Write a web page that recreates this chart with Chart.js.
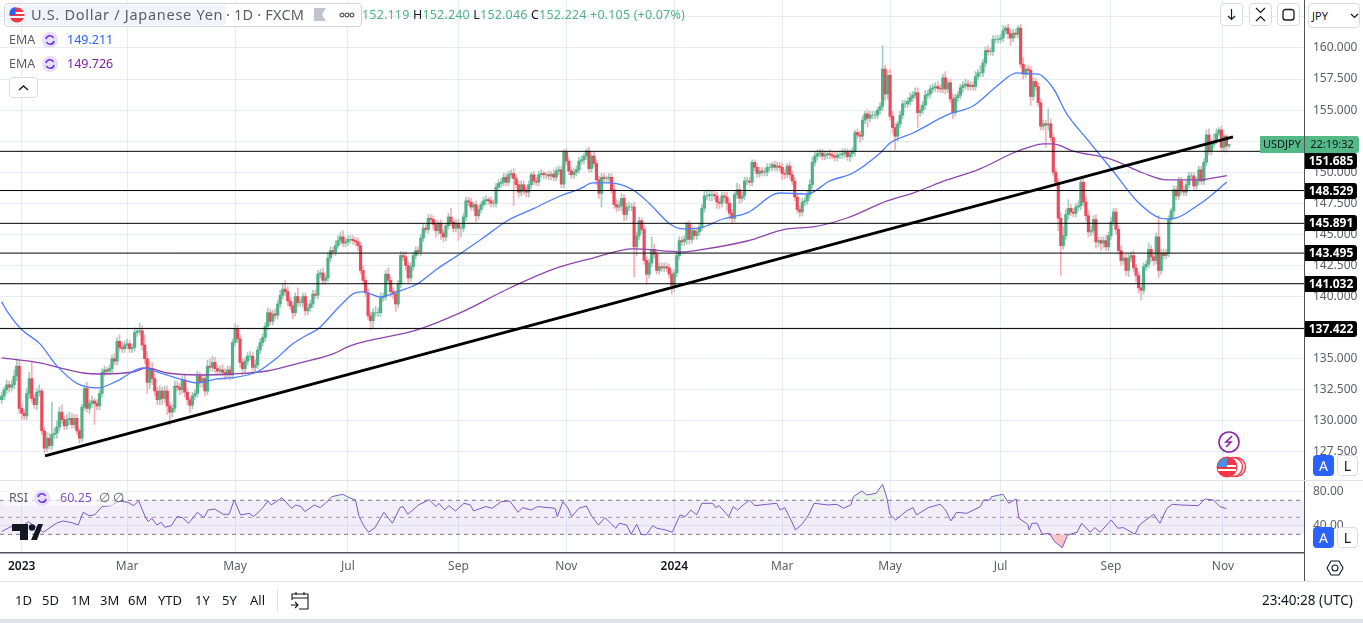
<!DOCTYPE html>
<html><head><meta charset="utf-8">
<script src="https://cdn.jsdelivr.net/npm/chart.js@4"></script>
<style>
html,body{margin:0;padding:0;background:#fff;overflow:hidden;width:1363px;height:623px;font-family:"Noto Sans",sans-serif;color:#131722}
#c{position:absolute;left:0;top:0}
.a{position:absolute;white-space:nowrap;line-height:1}
.btn{position:absolute;box-sizing:border-box;background:#fff;border:1px solid #d9dce4;border-radius:4px}
.ico{position:absolute;width:16px;height:16px;border-radius:50%;background:#e6dffa}
</style></head><body>
<canvas id="c" width="1363" height="582"></canvas>
<script>
const closes=[
132.0,132.5,132.9,132.7,132.9,133.6,134.4,131.0,130.6,130.4,
132.2,133.4,131.8,131.3,132.3,132.4,129.2,127.8,128.6,128.0,
128.9,129.0,129.5,130.7,130.1,129.6,130.1,130.2,129.7,130.2,
129.2,128.6,131.1,132.6,131.0,131.4,131.6,131.4,131.2,132.2,
133.9,134.1,134.0,134.2,135.0,134.8,136.4,135.9,135.8,136.1,
136.2,135.8,135.9,137.1,137.2,137.25,136.1,135.0,133.1,134.2,
133.4,132.4,131.7,132.4,131.8,132.4,131.2,130.7,131.0,132.8,
132.7,132.5,133.3,132.3,131.7,131.25,132.0,132.2,133.6,133.1,
133.4,132.4,134.4,134.3,134.7,134.2,134.0,134.1,133.9,133.7,
134.1,133.7,136.3,137.4,136.6,134.7,134.2,134.8,135.2,135.2,
134.3,134.5,135.7,136.3,136.7,137.6,138.7,138.0,138.6,138.5,
139.4,140.1,140.6,140.4,139.65,139.25,138.7,140.0,139.5,139.5,
140.0,138.85,139.1,139.4,140.2,140.1,141.8,141.9,141.3,141.5,
143.1,143.7,143.6,144.1,144.5,144.8,144.3,144.4,144.6,144.6,
144.5,144.4,144.1,142.1,141.3,140.3,138.45,138.05,138.7,138.7,
138.7,139.9,140.0,141.8,141.3,140.4,140.2,139.4,141.0,143.3,
143.2,142.5,141.5,142.4,143.3,143.7,143.6,144.7,145.5,145.4,
146.3,146.2,145.8,145.3,145.9,145.1,144.8,145.7,146.4,146.0,
145.5,145.9,145.5,145.5,146.4,147.7,147.6,147.2,147.4,146.5,
147.0,147.4,147.7,147.8,147.7,147.5,147.5,148.8,149.1,149.2,
149.6,149.2,149.8,149.9,149.5,149.0,148.4,149.0,148.5,148.4,
149.0,149.8,149.3,149.2,149.8,149.9,149.8,149.8,149.7,149.85,
149.6,150.1,150.2,149.05,151.6,150.9,150.1,149.8,150.0,150.2,
150.9,151.0,151.3,151.7,150.3,151.3,150.7,149.4,148.3,149.6,
149.5,149.5,149.6,148.6,147.4,147.2,147.3,147.9,146.6,147.2,
147.2,147.2,144.0,144.9,146.1,145.4,142.9,141.8,142.7,143.8,
143.4,142.1,142.4,142.3,142.4,142.3,141.8,140.9,141.9,143.3,
144.5,144.4,144.6,145.8,144.6,145.3,144.9,145.2,145.6,147.1,
148.1,148.1,148.2,148.2,148.1,147.6,147.5,148.1,148.0,147.5,
146.7,146.3,148.2,148.6,147.9,148.1,149.3,149.3,149.2,150.8,
150.4,149.9,150.1,150.0,150.0,150.4,150.4,150.6,150.4,150.5,
150.4,149.9,149.85,150.5,149.8,149.3,148.0,147.0,146.8,147.6,
147.7,148.2,149.0,150.8,151.3,151.5,151.55,151.3,151.4,151.5,
151.4,151.3,151.2,151.4,151.4,151.5,151.6,151.25,151.5,151.7,
153.2,153.0,152.9,154.2,154.7,154.35,154.6,154.6,154.6,155.0,
155.3,158.3,156.3,157.8,154.5,153.6,152.9,153.9,154.6,155.5,
155.5,155.7,156.0,156.2,156.4,154.8,155.0,155.4,156.2,156.3,
156.7,156.8,156.9,156.75,156.7,157.6,156.7,157.2,155.9,154.8,
156.0,156.2,156.8,157.0,157.1,156.9,157.0,156.9,157.7,158.0,
158.0,158.8,159.8,159.7,159.7,160.7,160.7,160.7,160.8,161.4,
161.6,161.15,160.8,161.2,161.1,161.6,158.7,157.9,158.3,158.2,
156.1,157.3,156.9,155.6,153.7,153.9,153.8,153.9,152.8,150.0,
149.2,146.3,144.1,144.9,146.6,147.1,146.8,146.7,147.2,147.3,
149.2,147.6,146.5,145.2,145.3,146.2,144.4,144.5,144.3,144.5,
144.0,144.9,146.0,146.8,145.4,143.7,142.9,143.1,142.1,143.1,
143.3,142.3,141.7,140.7,140.5,142.4,142.6,143.8,143.2,142.9,
144.8,142.1,143.5,143.3,143.5,146.2,146.9,148.6,148.1,149.3,
148.5,148.4,149.0,149.7,149.7,148.9,149.3,150.2,149.3,150.8,
153.0,151.7,152.25,152.5,153.1,153.4,152.0,152.9,152.119,152.224];
const wickUp=[
.3,.2,.4,.3,.4,.5,.6,.5,.4,.3,.4,.5,1.4,.3,.3,.5,.2,.3,.5,.4,
2.6,.4,.5,.4,.6,.3,.4,.5,.4,.3,.3,.2,.2,.3,.5,.3,.4,.2,.3,.3,
.3,.3,.2,.3,.3,.4,.3,.5,.4,.3,.4,.3,.3,.4,.2,.6,.4,.8,.6,.6,
.5,.4,.3,.4,.3,.4,.4,.3,.3,.4,.4,.3,.3,.4,.3,.2,.3,.3,.4,.3,
.3,.3,.5,.6,.5,.4,.3,.3,.4,.3,.3,.3,.3,.4,.3,.3,.3,.3,.3,.4,
.3,.4,.3,.3,.3,.3,.4,.3,.3,.4,.3,.4,.5,.7,.4,.3,.3,.3,.7,.3,
.3,.3,.3,.3,.3,.3,.3,.3,.4,.3,.4,.3,.3,.4,.4,.4,.5,.3,.3,.3,
.3,.3,.3,.3,.4,.3,.3,.3,.3,.5,.4,.4,.3,.3,.5,.3,.3,.3,.3,.3,
.3,.4,.3,.3,.2,.3,.3,.3,.3,.3,.3,.3,.3,.4,.2,.3,.3,.2,.3,.7,
.3,.3,.3,.3,.3,.3,.3,.3,.2,.3,.3,.2,.3,.3,.2,.3,.3,.3,.3,.3,
.3,.3,.3,.3,.4,.3,.3,.3,.3,.3,.3,.2,.3,.3,.3,.3,.2,.2,.3,.2,
.4,.3,.3,.3,.2,.3,.3,.3,.3,.3,.3,.3,.2,.2,.3,.2,.3,.3,.3,.3,
.3,.2,.3,.3,.4,.4,.4,.4,.3,.3,.4,.3,.4,.3,.3,.2,.3,.3,.3,1.0,
.4,.3,.3,.3,.3,.3,.3,.3,.3,.3,.3,.3,.3,.2,.3,.3,.3,.3,.3,.3,
.4,.5,.3,.3,.4,.3,.3,.3,.3,.4,.3,.3,.2,.5,.4,.3,.3,.3,.3,.2,
.2,.3,.3,.3,.3,.3,.3,.2,.3,.3,.3,.3,.3,.2,.3,.3,.3,.3,.3,.3,
.3,.3,.4,.4,.3,.3,.3,.3,.3,.2,.3,.3,.3,.3,.3,.4,.3,.3,.3,.3,
.2,.3,.3,.3,.2,.3,.3,.3,.3,.2,.3,1.9,.3,.4,.5,.4,.3,.2,.3,.3,
.3,.3,.4,.3,.4,.4,.3,.3,.4,.3,.3,.3,.3,.4,.3,.3,.5,.2,.3,.4,
.3,.3,.3,.3,.4,.3,.3,.3,.4,.3,.6,.3,.3,.4,.3,.3,.3,.3,.3,.4,
.2,.3,.3,.3,.3,.2,.3,.5,.3,.3,.3,.3,.3,.3,.3,.3,.3,1.2,.4,.3,
.3,.3,.4,.7,.4,.7,.3,.3,.3,.4,.3,.3,.4,.4,.4,.3,.4,.3,.3,.3,
.4,.3,.4,.3,.3,.3,.4,.3,.3,.3,.3,.4,.3,.3,.2,.3,.3,.5,.3,.3,
.3,1.7,.3,.3,.3,.3,.2,.3,.3,.3,.3,.3,.3,.3,.3,.3,.3,.3,.3,.3,
.4,.5,.4,.6,.4,.2,.3,.2,.1,.02];
const wickDown=[
.3,.3,.3,.4,.3,.3,.4,.4,.5,.3,.3,.4,.3,.3,.4,.3,.3,.4,.3,.3,
.3,.3,.4,.3,.3,.3,.3,.4,.3,.3,.3,.4,.3,.3,.3,.4,.3,1.7,.3,.3,
.3,.3,.3,.3,.3,.3,.3,.3,.3,.3,.3,.3,.3,.3,.3,.3,.4,.4,.9,.5,
.5,.4,.4,.4,.5,.3,.7,1.05,.4,.3,.3,.4,.3,.4,.4,.6,.3,.3,.3,.4,
.4,.4,.3,.3,.3,.3,.3,.3,.3,.4,.3,.4,.3,.3,.3,.4,.5,.3,.3,.3,
.3,.4,.3,.3,.3,.3,.3,.3,.3,.3,.3,.3,.3,.3,.4,.3,.5,.3,.3,.3,
.3,.4,.3,.3,.3,.3,.3,.3,.3,.3,.3,.3,.3,.3,.2,.3,.3,.3,.3,.3,
.3,.3,.4,.3,.3,.3,.3,.7,.6,.3,.3,.3,.3,.3,.3,.4,.4,.6,.3,.3,
.3,.4,.4,.3,.3,.3,.3,.3,.3,.3,.3,.3,.4,.5,.3,.5,.4,.3,.3,.3,
.3,.3,1.0,.7,.3,.3,.3,.3,.3,.5,.3,.3,.2,.3,.3,.3,.3,.3,.3,.3,
.3,.3,.3,.3,2.2,.3,.4,.3,.3,.4,.4,.3,.3,.3,.3,.2,.3,.3,.3,.3,
.3,.3,.3,.3,.3,.3,.3,.3,.3,.3,.3,.3,.3,.3,.3,.3,.3,.4,.4,1.1,
.3,.3,.3,.3,.3,.4,.3,.4,.5,.4,.3,.3,2.4,.7,.3,.3,.3,.8,.3,.3,
.3,.3,.3,.3,.3,.3,.3,.7,.5,.3,.3,.3,.3,.4,.4,.3,.3,.3,.3,.3,
.3,.3,.4,.5,.3,.5,.4,.3,.4,.6,.5,.4,.3,.3,.4,.3,.3,.3,.3,.3,
.3,.3,.3,.3,.3,.3,.3,.3,.3,.3,.3,.5,.4,.3,.3,.3,.3,.3,.4,.3,
.3,.3,.3,.3,.3,.3,.3,.3,.3,.3,.3,.2,.3,.3,.3,.3,.3,.3,.4,.3,
.4,.3,.5,.3,.3,.7,.3,.3,.3,.3,.3,.3,.5,.4,.3,.5,1.1,.4,.3,.3,
.3,.3,.3,.3,.3,1.2,.3,.3,.3,.3,.3,.3,.3,.3,.3,.3,.4,.3,.3,.5,
.3,.3,.3,.4,.3,.3,.3,.3,.3,.3,.3,.3,.3,.3,.3,.3,.3,.3,.3,.3,
.3,.4,.6,.3,.3,.3,.3,.4,.3,.3,.7,.3,.3,.3,.3,.3,1.8,.4,.3,.3,
.3,1.0,2.4,.3,.3,.4,.3,.3,.3,.3,.3,.3,.4,.4,.3,.3,.5,.4,.6,.4,
.3,.3,.3,.3,.4,.3,.4,.3,.4,.5,.3,.3,.5,.4,.8,.3,.3,.3,.4,.4,
.3,.6,.3,.3,.3,.3,.3,.6,.3,.3,.3,.3,.3,.3,.3,.3,.3,.3,.3,.3,
.3,.3,.3,.3,.2,.2,.3,.3,.5,.18];
const fastEmaBar=[0,2.1,7.7,15.3,22,30.4,38.4,46,56.3,63.1,72.3,77.8,85.8,91,101.7,109.7,114.9,121.7,126,134.8,140.8,144,150.8,158.7,165.5,173.5,182.6,191.8,201.3,211.7,222.5,230.4,235.6,242.4,251.5,258.3,266.3,271.5,278.2,287.4,297,310.1,320.9,330,339.2,350,354,363.1,376.7,387,396.6,404.5,409.7,412.5,418.9,424.4,432.4,442.8,452.3,461.5,465.5,477.4,488.2];
const fastEma=[139.57,138.84,137.39,136.19,134.42,132.97,132.65,133.21,134.26,133.85,133.29,133.05,133.37,133.45,133.93,135.06,136.03,136.91,137.39,139.24,140.29,140.37,139.97,140.45,141.01,142.22,143.43,144.71,146.08,147.05,148.09,148.66,149.14,149.14,148.58,147.45,145.84,145.44,145.52,146.24,146.73,148.33,148.25,149.3,149.94,151.55,152.36,153.16,154.61,155.33,156.94,157.99,157.91,157.91,156.78,154.69,152.68,150.1,147.69,146.32,146.24,147.45,149.211];
const slowEmaBar=[0,15.3,23.3,32.4,39.2,52.3,57.9,65.9,79,92.2,105.7,118.9,132,138.8,165.5,182.6,202.5,221.2,235.6,251.5,271.5,278.2,297,312.9,323.3,336.8,352.8,363.1,376.7,389.8,403,409.7,414.9,418.9,426.9,441.6,454.8,464.3,476.3,488.2];
const slowEma=[135.06,134.66,134.26,133.85,133.77,133.93,134.26,133.85,133.69,133.77,134.01,134.66,135.38,136.03,137.31,138.68,140.69,142.3,143.1,143.83,143.59,143.75,144.47,145.44,145.6,146.32,147.69,148.33,149.38,150.27,151.55,152.04,152.28,152.28,151.71,151.07,149.94,149.38,149.38,149.726];
const rsiBar=[0,3.7,8,10.6,16.6,21.8,24.4,27.9,30.5,32.5,34.8,37,40,43.4,46.9,50.3,52.6,54.6,57.2,58.4,59.8,61.9,63.6,65,67.6,69.9,72,74.5,78,80.6,82.3,84.9,88.3,90.6,92.7,95.2,98.7,100.4,103.9,106.1,107.4,111.7,115.5,117.2,119.4,120.8,124.6,126.9,129,131.5,135.9,138.5,141,142.4,144.5,146.2,148.8,152.3,155.7,158.7,160,161.8,166.1,170.4,173,174.2,176.5,178.2,180.8,184.2,186.8,188,192.9,195.5,199,202.4,205.8,207.6,211,213.6,220.5,221.4,223.6,225.7,227.1,230,233,235.2,237.8,240.4,244.7,246.1,249,250.8,253,254.8,256.8,259.4,261.1,264.6,267.2,270.3,272.4,274.6,276.9,279,283.3,284.5,285.9,289.7,291.5,293.2,295.5,298,300.1,305,308.8,310.2,312,314.5,316.3,318.9,321.5,323.7,329.3,332.8,335.4,338.3,339.4,342.8,344.6,348.4,351,352.7,353.9,356.2,360.5,363.1,364.5,369.2,374,376.1,378.2,380.5,384.5,390,391.2,393.8,394.4,399,401.3,404.2,405.3,408.8,409.4,410.5,412.6,414.6,417.4,419.5,422.6,424.7,428.5,430.3,433.7,435.5,437.7,442.1,444.7,446.9,451.6,453.3,456.8,459,461.5,464.3,466.4,469.8,476.8,479.4,482.8,485.4,488];
const rsiValue=[33.2,39,39,44.9,32.4,43,45.7,43.7,41,55.9,52,52.8,62.6,63.7,69.2,67.7,63.7,69.2,50.8,44.9,48.8,41,44.1,38.3,40.2,50.8,49.6,43,55.9,49.6,58.6,59.8,53.5,53.5,70.4,52.8,54.7,50.8,60.6,69.2,64.5,73.1,60.6,64.5,62.6,56.7,64.5,61.4,66.5,74.3,77.1,73.1,70.4,50.8,39,32.4,37.9,55.9,43,61.4,62.6,53.5,64.5,70.8,62.6,66.5,58.6,63.7,57.5,66.5,64.5,57.5,62.6,60.6,68.4,69.2,55.9,61.4,58.6,62.6,60.6,50.8,68.4,60.6,50.8,60.6,63.3,50.8,41,49.6,37.1,43,41,30,41.8,30,29.2,40.2,37.1,35.1,32.4,52.8,50.8,58.6,52.8,66.5,66.5,61.4,63.7,50.8,62.6,58.6,64.5,70.4,63.7,65.3,66.5,58.6,61.4,46.9,35.1,41.8,52.8,66.5,64.5,65.3,60.6,64.5,74.3,81,76.3,78.2,88.8,73.1,53.5,46.9,57.5,61.4,52.8,61.4,65.3,58.6,45.7,55.9,54.7,62.6,70.4,70.4,74.3,77.1,66.5,71.6,48.8,41.8,35.1,43,43,30,31.2,21.4,14.3,29.2,32.4,43,32.4,37.9,32.4,46.9,37.1,37.9,30,41,48.8,53.5,43,60.6,65.3,64.5,63.7,71.6,70.4,62.6,60.25];
const levels=[151.685,148.529,145.891,143.495,141.032,137.422];
const levelLabelShift=[10,0,0,0,0,0];
const trendBars=[17.3,490.6];
const trendPrices=[127.18,152.84];
const monthBars=[8,50,93,138,182,225,268,311,354,398,442,486.6];
const monthLabels=['2023','Mar','May','Jul','Sep','Nov','2024','Mar','May','Jul','Sep','Nov'];
const priceTicks=[127.5,130,132.5,135,137.5,140,142.5,145,147.5,150,152.5,155,157.5,160,162.5];
const rsiTicks=[80,40];
const rsiBands=[70,50,30];

const UP='#4fb286',DN='#ec4a5c',UPW='#a3ccbc',DNW='#f7adb5';
const opens=closes.map((c,i)=>i?closes[i-1]:c-0.3);
const last=closes.length-1;
const bodies=closes.map((c,i)=>({x:i,y:[opens[i],c]}));
const wicks=closes.map((c,i)=>({x:i,y:[Math.min(opens[i],c)-wickDown[i],Math.max(opens[i],c)+wickUp[i]]}));
const colors=closes.map((c,i)=>c>=opens[i]?UP:DN);
const wcolors=closes.map((c,i)=>c>=opens[i]?UPW:DNW);
const XMIN=-0.65,XMAX=518.9;
const pts=(xs,ys)=>xs.map((x,i)=>({x,y:ys[i]}));
const flat=v=>[{x:XMIN,y:v},{x:XMAX,y:v}];
const ds=[];
ds.push({type:'bar',data:wicks,backgroundColor:wcolors,barThickness:1,grouped:false,order:9,xAxisID:'x',yAxisID:'y'});
ds.push({type:'bar',data:bodies,backgroundColor:colors,barThickness:2.5,grouped:false,order:8,xAxisID:'x',yAxisID:'y'});
ds.push({type:'line',data:pts(slowEmaBar,slowEma),borderColor:'#8e44ad',borderWidth:1.3,pointRadius:0,cubicInterpolationMode:'monotone',order:4,xAxisID:'x',yAxisID:'y'});
ds.push({type:'line',data:pts(fastEmaBar,fastEma),borderColor:'#4f7dff',borderWidth:1.3,pointRadius:0,cubicInterpolationMode:'monotone',order:3,xAxisID:'x',yAxisID:'y'});
levels.forEach(v=>ds.push({type:'line',data:flat(v),borderColor:'#000',borderWidth:1,pointRadius:0,order:2,xAxisID:'x',yAxisID:'y'}));
ds.push({type:'line',data:pts(trendBars,trendPrices),borderColor:'#000',borderWidth:2.8,pointRadius:0,order:1,xAxisID:'x',yAxisID:'y'});
ds.push({type:'line',data:flat(rsiBands[0]),borderColor:'#787b86',borderWidth:1,borderDash:[4,4],pointRadius:0,fill:'+2',backgroundColor:'rgba(126,87,194,0.1)',order:7,xAxisID:'x',yAxisID:'yR'});
ds.push({type:'line',data:flat(rsiBands[1]),borderColor:'#9a9da6',borderWidth:1,borderDash:[4,4],pointRadius:0,order:7,xAxisID:'x',yAxisID:'yR'});
ds.push({type:'line',data:flat(rsiBands[2]),borderColor:'#787b86',borderWidth:1,borderDash:[4,4],pointRadius:0,order:7,xAxisID:'x',yAxisID:'yR'});
ds.push({type:'line',data:pts(rsiBar,rsiValue),borderColor:'#7e57c2',borderWidth:1,pointRadius:0,tension:0,
  fill:{target:{value:70},above:'rgba(76,175,80,0.12)',below:'rgba(0,0,0,0)'},order:6,xAxisID:'x',yAxisID:'yR'});
ds.push({type:'line',data:pts(rsiBar,rsiValue),borderColor:'rgba(0,0,0,0)',borderWidth:0,pointRadius:0,tension:0,
  fill:{target:{value:30},above:'rgba(0,0,0,0)',below:'rgba(242,54,69,0.3)'},order:6,xAxisID:'x',yAxisID:'yR'});

const GRID='#e6ecf3',AXIS='#50535e',TXT='#5d606b';
const FONT='"Noto Sans",sans-serif';
const noPad=s=>{s.paddingTop=0;s.paddingBottom=0;s.paddingLeft=0;s.paddingRight=0;};
const labelPlugin={id:'levelLabels',afterDraw(chart){
  const c=chart.ctx,y=chart.scales.y;
  c.save();
  c.fillStyle='#53b987';
  c.fillRect(1260,136,44,17);
  c.beginPath();c.roundRect(1305,136,54,17,[0,3,3,0]);c.fill();
  c.fillStyle='#131722';c.font='11px '+FONT;c.textBaseline='middle';c.textAlign='center';
  c.fillText('USDJPY',1282,145);
  c.fillText('22:19:32',1332,145);
  levels.forEach((v,i)=>{
    const p=Math.round(y.getPixelForValue(v))+levelLabelShift[i];
    c.fillStyle='#000';
    c.beginPath();c.roundRect(1305,p-8,52,16,[0,3,3,0]);c.fill();
    c.fillStyle='#fff';c.font='bold 12px '+FONT;
    c.fillText(v.toFixed(3),1331,p+0.5);
  });
  c.restore();
}};
new Chart(document.getElementById('c'),{
  data:{datasets:ds},
  plugins:[labelPlugin],
  options:{
    responsive:false,animation:false,events:[],
    layout:{padding:0},
    plugins:{legend:{display:false},tooltip:{enabled:false},filler:{propagate:false}},
    scales:{
      x:{type:'linear',position:'bottom',min:XMIN,max:XMAX,offset:false,
        afterBuildTicks:s=>{s.ticks=monthBars.map(v=>({value:v}));},
        afterFit:s=>{s.height=29;noPad(s);},
        grid:{color:GRID,drawTicks:false,lineWidth:1,offset:false},
        border:{color:AXIS,width:1.5},
        ticks:{autoSkip:false,maxRotation:0,padding:6,
          callback:(v)=>monthLabels[monthBars.indexOf(v)],
          font:ctx=>({family:FONT,size:12,weight:ctx.index===0||ctx.index===6?'600':'400'}),
          color:ctx=>ctx.index===0||ctx.index===6?'#131722':TXT}},
      y:{position:'right',stack:'p',stackWeight:480,min:125.24,max:163.86,
        afterBuildTicks:s=>{s.ticks=priceTicks.map(v=>({value:v}));},
        afterFit:s=>{s.width=59;noPad(s);},
        grid:{color:GRID,drawTicks:false},
        border:{color:AXIS,width:1},
        ticks:{padding:9,autoSkip:false,color:TXT,font:{family:FONT,size:12},callback:v=>(v===152.5||v===162.5)?'':v.toFixed(3)}},
      yR:{position:'right',stack:'p',stackWeight:73,min:8,max:93.9,
        afterBuildTicks:s=>{s.ticks=rsiTicks.map(v=>({value:v}));},
        afterFit:s=>{s.width=59;noPad(s);},
        grid:{color:GRID,drawTicks:false},
        border:{color:AXIS,width:1},
        ticks:{padding:9,autoSkip:false,color:TXT,font:{family:FONT,size:12},callback:v=>v.toFixed(2)}}
    }
  }
});
</script>

<div class="a" style="left:0;top:480px;width:1363px;height:1px;background:#e0e3eb"></div>
<div class="a" style="left:0;top:581px;width:1363px;height:1px;background:#e0e3eb"></div>
<div class="a" style="left:0;top:619px;width:1363px;height:4px;background:#e0e3eb"></div>
<div class="a" style="left:1304px;top:553px;width:1px;height:28px;background:#50535e"></div>

<div class="a" style="left:4px;top:3px;width:358px;height:24px;box-sizing:border-box;background:#fff;border:1px solid #d1d4dc;border-radius:4px"></div>
<div class="a" style="left:6px;top:5px;width:220px;height:20px;background:#f0f3fa;border-radius:3px"></div>
<svg class="a" style="left:8px;top:6px" width="18" height="18" viewBox="0 0 18 18"><circle cx="9" cy="9" r="7.5" fill="#f23645"/><rect x="1.5" y="6" width="15" height="2" fill="#fff"/><rect x="1.5" y="10" width="15" height="2" fill="#fff"/><path d="M1.5 9V6a7.5 7.5 0 0 1 6-5V9z" fill="#2962ff"/></svg>
<div class="a" style="left:31px;top:7px;font-size:14.5px;color:#5a5d66;letter-spacing:.72px">U.S. Dollar / Japanese Yen</div>
<div class="a" style="left:226px;top:7px;font-size:14.5px;color:#5a5d66;letter-spacing:.2px">· 1D · FXCM</div>
<svg class="a" style="left:314px;top:8px" width="13" height="13"><path d="M0 0H12L8 6.5 12 13H0z" fill="#c1c4cd"/></svg>
<svg class="a" style="left:339px;top:12px" width="16" height="6" fill="none" stroke="#2a2e39"><circle cx="3" cy="3" r="2"/><circle cx="8" cy="3" r="2"/><circle cx="13" cy="3" r="2"/></svg>
<div class="a" style="left:362px;top:9px;font-size:12.5px;letter-spacing:.18px;color:#131722"><span style="color:#4fb286">152.119</span> H<span style="color:#4fb286">152.240</span> L<span style="color:#4fb286">152.046</span> C<span style="color:#4fb286">152.224 +0.105 (+0.07%)</span></div>

<div class="a" style="left:9px;top:34px;font-size:12.5px;color:#5a5d66">EMA</div>
<div class="ico" style="left:42px;top:32px"></div><svg class="a" style="left:44px;top:34px" width="12" height="12" fill="none" stroke="#6a2cf0" stroke-width="1.6"><path d="M2 5a4 4 0 0 1 7.5-1M10 7a4 4 0 0 1-7.5 1"/></svg>
<div class="a" style="left:67px;top:34px;font-size:12.5px;color:#2962ff">149.211</div>
<div class="a" style="left:9px;top:58px;font-size:12.5px;color:#5a5d66">EMA</div>
<div class="ico" style="left:42px;top:56px"></div><svg class="a" style="left:44px;top:58px" width="12" height="12" fill="none" stroke="#6a2cf0" stroke-width="1.6"><path d="M2 5a4 4 0 0 1 7.5-1M10 7a4 4 0 0 1-7.5 1"/></svg>
<div class="a" style="left:67px;top:58px;font-size:12.5px;color:#7b1fa2">149.726</div>
<div class="btn" style="left:9px;top:77px;width:29px;height:21px"></div>
<svg class="a" style="left:18px;top:84px" width="11" height="7" fill="none" stroke="#131722" stroke-width="1.4"><path d="M1 6l4.5-4L10 6"/></svg>

<div class="a" style="left:3px;top:488px;width:118px;height:18px;background:rgba(255,255,255,.6)"></div>
<div class="a" style="left:9px;top:492px;font-size:12.5px;color:#5a5d66">RSI</div>
<div class="ico" style="left:34px;top:490px"></div><svg class="a" style="left:36px;top:492px" width="12" height="12" fill="none" stroke="#6a2cf0" stroke-width="1.6"><path d="M2 5a4 4 0 0 1 7.5-1M10 7a4 4 0 0 1-7.5 1"/></svg>
<div class="a" style="left:60px;top:492px;font-size:12.5px;color:#7e57c2">60.25</div>
<div class="a" style="left:99px;top:492px;font-size:12.5px;color:#5a5d66">∅</div>
<div class="a" style="left:113px;top:492px;font-size:12.5px;color:#5a5d66">∅</div>
<svg class="a" style="left:12px;top:523px" width="32" height="17"><path d="M0 1H16V17H8V8H0z" fill="#131722"/><circle cx="20" cy="4.5" r="3.2" fill="#131722"/><path d="M19 17L26 1H31L25 17z" fill="#131722"/></svg>

<div class="btn" style="left:1220px;top:3px;width:23px;height:23px"></div>
<svg class="a" style="left:1225px;top:8px" width="13" height="13" fill="none" stroke="#131722" stroke-width="1.2"><path d="M6.5 1v10M3 8l3.5 3.5L10 8"/></svg>
<div class="btn" style="left:1249px;top:3px;width:23px;height:23px"></div>
<svg class="a" style="left:1254px;top:7px" width="13" height="15" fill="none" stroke="#131722" stroke-width="1.2"><path d="M2 1l4.5 4.5L11 1M2 14l4.5-4.5L11 14"/></svg>
<div class="btn" style="left:1277px;top:3px;width:23px;height:23px"></div>
<svg class="a" style="left:1282px;top:8px" width="13" height="13" fill="none" stroke="#131722" stroke-width="1.3"><path d="M1 3.5V10a2.5 2.5 0 0 0 2.5 2H9.5a2.5 2.5 0 0 0 2.5-2V3.5A2.5 2.5 0 0 0 9.5 1.5H3.5A2.5 2.5 0 0 0 1 3.5z" /></svg>
<div class="btn" style="left:1308px;top:3px;width:52px;height:25px"></div>
<div class="a" style="left:1312px;top:10px;font-size:11px;color:#131722">JPY</div>
<svg class="a" style="left:1350px;top:13px" width="9" height="6" fill="none" stroke="#131722" stroke-width="1.2"><path d="M1 1l3.5 3.5L8 1"/></svg>

<svg class="a" style="left:1217px;top:431px" width="24" height="24" fill="none"><circle cx="12" cy="11" r="10" stroke="#8e24aa" stroke-width="1.6"/><path d="M15 5l-6 6h5l-5 5" stroke="#8e24aa" stroke-width="1.6"/></svg>
<svg class="a" style="left:1215px;top:456px" width="32" height="23"><circle cx="21" cy="11" r="9.5" fill="#fff" stroke="#f23645" stroke-width="1.4"/><circle cx="18" cy="11" r="9.5" fill="#fff" stroke="#f23645" stroke-width="1.4"/><circle cx="12" cy="11" r="10" fill="#f23645" stroke="#f23645"/><rect x="3" y="9" width="18" height="2" fill="#fff"/><rect x="3" y="13" width="18" height="2" fill="#fff"/><path d="M3 11V7a10 10 0 0 1 9-5V11z" fill="#4a90e2"/></svg>

<div class="a" style="left:1313px;top:455px;width:21px;height:21px;background:#2962ff;border-radius:4px;color:#fff;font-size:14px;text-align:center;line-height:21px">A</div>
<div class="btn" style="left:1337px;top:455px;width:21px;height:21px;font-size:14px;text-align:center;line-height:20px">L</div>
<div class="a" style="left:1313px;top:527px;width:21px;height:21px;background:#2962ff;border-radius:4px;color:#fff;font-size:14px;text-align:center;line-height:21px">A</div>
<div class="btn" style="left:1337px;top:527px;width:21px;height:21px;font-size:14px;text-align:center;line-height:20px">L</div>
<svg class="a" style="left:1326px;top:559px" width="18" height="18" fill="none" stroke="#131722" stroke-width="1.1"><path d="M5 2h8l4 7-4 7H5L1 9z"/><circle cx="9" cy="9" r="3"/></svg>

<div class="a" style="left:15px;top:594px;font-size:13px">1D</div>
<div class="a" style="left:42px;top:594px;font-size:13px">5D</div>
<div class="a" style="left:71px;top:594px;font-size:13px">1M</div>
<div class="a" style="left:100px;top:594px;font-size:13px">3M</div>
<div class="a" style="left:128px;top:594px;font-size:13px">6M</div>
<div class="a" style="left:158px;top:594px;font-size:13px">YTD</div>
<div class="a" style="left:195px;top:594px;font-size:13px">1Y</div>
<div class="a" style="left:222px;top:594px;font-size:13px">5Y</div>
<div class="a" style="left:250px;top:594px;font-size:13px">All</div>
<div class="a" style="left:277px;top:590px;width:1px;height:22px;background:#e0e3eb"></div>
<svg class="a" style="left:290px;top:591px" width="20" height="19" fill="none" stroke="#131722" stroke-width="1.1"><path d="M2 9V3H18V18H9M2 7H18M6 1V4M14 1V4M1 14H8M5 11l3 3-3 3"/></svg>
<div class="a" style="left:1262px;top:594px;font-size:13.5px;color:#131722">23:40:28 (UTC)</div>
</body></html>
